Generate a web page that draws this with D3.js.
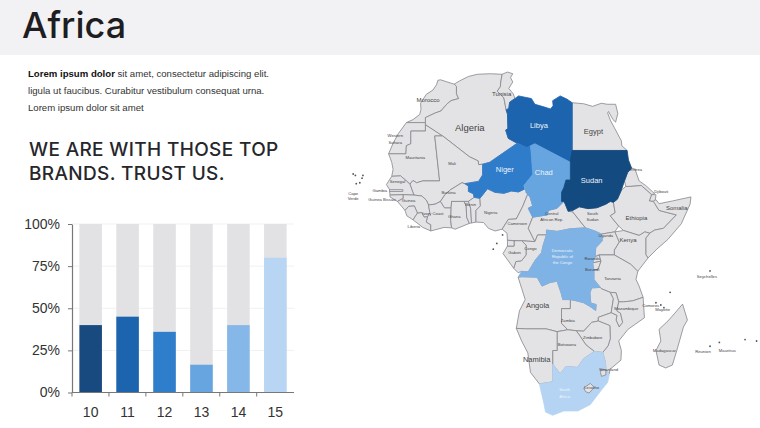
<!DOCTYPE html>
<html>
<head>
<meta charset="utf-8">
<script src="https://cdnjs.cloudflare.com/ajax/libs/d3/7.8.5/d3.min.js"></script>
<style>
body{margin:0;background:#fff;}
svg{display:block;}
text{font-family:"Liberation Sans",Arial,sans-serif;}
</style>
</head>
<body>
<svg width="760" height="428"></svg>
<script>
var svg = d3.select('svg');

// bar chart values
var periods = ['10','11','12','13','14','15'];
var shares = [40,45,36,16.5,40,80];
var pctTicks = [0,25,50,75,100];
var barColors = ['#184a80','#1c64ae','#2f7ecb','#66a5e0','#85b8e8','#b8d5f3'];

// country outlines, lon/lat
var outlines = {
  'Morocco':[[-5.9,35.8],[-5.3,35.9],[-3,35.3],[-2.2,35.1],[-1.7,34.7],[-1.7,33.3],[-1.2,32.4],[-2.9,32],[-3.8,31.4],[-5.2,30],[-6.5,29.6],[-8.7,28.7],[-8.7,27.7],[-13,27.7],[-11.5,28.3],[-10,29.3],[-9.7,30.3],[-9.8,31.5],[-8.5,33.2],[-7,34],[-6.2,35]],
  'Western Sahara':[[-13,27.7],[-8.7,27.7],[-8.7,26],[-12,26],[-12,23.4],[-13,23],[-13.1,21.3],[-17,21.3],[-16,23.5],[-14.8,25.5]],
  'Mauritania':[[-17,21.3],[-13.1,21.3],[-13,23],[-12,23.4],[-12,26],[-8.7,26],[-8.7,27.3],[-4.8,25],[-6.6,25],[-5.5,15.5],[-9.3,15.5],[-10.7,15.1],[-11.5,15.6],[-12.2,14.8],[-13,15.5],[-14.3,16.6],[-16.3,16.5],[-16,18],[-16.3,19.5]],
  'Algeria':[[-2.2,35.1],[-1,35.7],[1,36.5],[3,36.9],[6,37],[8.6,36.9],[8.3,35.5],[8.2,34.6],[7.5,33.8],[9,32.5],[9.5,30.2],[9.8,29.4],[9.9,26.5],[9.4,26.2],[10,24.5],[12,23.5],[5.8,19.5],[4.2,19.1],[3.3,19],[3.2,19.8],[1.2,20.7],[-4.8,25],[-8.7,27.3],[-8.7,28.7],[-6.5,29.6],[-5.2,30],[-3.8,31.4],[-2.9,32],[-1.2,32.4],[-1.7,33.3],[-1.7,34.7]],
  'Tunisia':[[8.6,36.9],[9.8,37.3],[11,37],[10.5,36.3],[11,35.5],[10.1,34.3],[11.1,33.3],[11.5,32.4],[10.3,31.7],[10.1,30.5],[9.5,30.2],[9,32.5],[7.5,33.8],[8.2,34.6],[8.3,35.5]],
  'Egypt':[[24.4,31.6],[27,31.4],[29,30.9],[31,31.5],[32.3,31.3],[34.2,31.3],[34.7,29.5],[34.2,27.8],[33.6,28.3],[32.6,29.9],[32.4,29.6],[33,28.2],[33.9,26.7],[35.5,24],[35.6,23],[36.8,22],[24.4,22]],
  'Mali':[[-4.8,25],[1.2,20.7],[3.2,19.8],[3.3,19],[4.2,19.1],[4.2,16.8],[3.3,15.4],[0.2,14.9],[-0.5,15.1],[-2,14.2],[-3,13.6],[-4.3,12.5],[-5.3,11],[-6.5,10.4],[-8,10.2],[-8.5,11.3],[-9.5,12.2],[-11.3,12.4],[-12.2,14.8],[-11.5,15.6],[-10.7,15.1],[-9.3,15.5],[-5.5,15.5],[-6.6,25]],
  'Senegal':[[-17.5,14.7],[-16.3,16.5],[-14.3,16.6],[-13,15.5],[-12.2,14.8],[-11.3,12.4],[-13.7,12.5],[-16.7,12.4],[-16.8,13.6]],
  'Gambia':[[-16.8,13.6],[-13.8,13.6],[-13.8,13.2],[-16.8,13.2]],
  'Guinea Bissau':[[-16.7,12.4],[-13.7,12.5],[-13.7,11.7],[-15,11],[-16.7,12]],
  'Guinea':[[-13.7,12.5],[-11.3,12.4],[-9.5,12.2],[-8.5,11.3],[-8,10.2],[-7.7,8.5],[-8.2,7.6],[-9,7.5],[-9.5,8.5],[-10.5,8.4],[-11.2,10],[-12.5,9.9],[-13.3,9],[-15,11],[-13.7,11.7]],
  'Sierra Leone':[[-13.3,9],[-12.5,9.9],[-11.2,10],[-10.5,8.4],[-11.5,6.9],[-12.9,7.8]],
  'Liberia':[[-11.5,6.9],[-10.5,8.4],[-9.5,8.5],[-9,7.5],[-8.2,7.6],[-8.5,6.4],[-7.5,5.8],[-7.5,4.4],[-9.3,5.2]],
  'Ivory Coast':[[-8,10.2],[-6.5,10.4],[-5.3,11],[-4.4,9.6],[-2.9,9.6],[-3,6.8],[-2.8,5.1],[-4.5,5.2],[-7.5,4.4],[-7.5,5.8],[-8.5,6.4],[-8.2,7.6],[-7.7,8.5]],
  'Burkina Faso':[[-5.3,11],[-4.3,12.5],[-3,13.6],[-2,14.2],[-0.5,15.1],[0.2,14.9],[1,14.4],[1,13.2],[2.1,12.7],[2.3,11.9],[1,11],[-2.8,11],[-2.9,9.6],[-4.4,9.6]],
  'Ghana':[[-2.8,11],[0,11],[0.5,10],[0.6,7.5],[1.2,6.1],[-2,4.8],[-2.8,5.1],[-3,6.8],[-2.9,9.6]],
  'Togo':[[0,11],[1,11],[1.5,9.5],[1.7,6.2],[1.2,6.1],[0.6,7.5],[0.5,10]],
  'Benin':[[1,11],[2.3,11.9],[3.6,11.7],[3.7,10],[2.7,9],[2.7,6.4],[1.7,6.2],[1.5,9.5]],
  'Nigeria':[[2.7,6.4],[2.7,9],[3.7,10],[3.6,11.7],[5.3,13.8],[7,13],[9,12.8],[10.7,13.3],[12.3,13.1],[13.6,13.7],[14.5,12.9],[13.2,9.8],[11.8,7.1],[10,7],[8.6,4.8],[7,4.4],[5.5,5],[4.4,6.3]],
  'Cameroon':[[8.6,4.8],[10,7],[11.8,7.1],[13.2,9.8],[14.5,12.9],[14,13],[14.9,12],[15.5,10],[14.5,9.5],[15.5,7.5],[14.5,5],[16,2],[13,2.2],[9.8,2.3],[9.7,3.9]],
  'Central African Republic':[[15.5,7.5],[18.8,8],[19,9],[21,9.5],[22.5,11],[22.8,10.5],[23.5,8.8],[24.5,8.7],[27.4,5.1],[24,4.9],[21,4.3],[18.6,4.6],[18.6,3.5],[16.6,3.5],[16,2],[14.5,5]],
  'South Sudan':[[24.5,9],[26,9.8],[28,9.4],[30,9.6],[32,10.4],[33,11],[33.7,10.8],[34.1,8.5],[33,7.8],[34.9,5.5],[34,4.2],[31,3.7],[29.5,4.4],[27.4,5.1],[24.5,8.7]],
  'Eritrea':[[37.8,18.3],[38.6,18],[39.5,15.5],[41,14.5],[43,12.7],[42.3,12.5],[40,14.5],[37.5,14.3],[36.5,14.3],[36.2,15.5],[36.9,17.3]],
  'Djibouti':[[42.3,12.5],[43.3,12.5],[43.2,11.5],[42.7,11],[41.8,11.1]],
  'Ethiopia':[[35.5,13.5],[36.5,14.3],[37.5,14.3],[40,14.5],[42.3,12.5],[41.8,11.1],[42.7,11],[43,10.6],[44,9],[47.9,8],[45,5],[43,4.6],[41.9,3.9],[40.8,4.2],[39.5,3.4],[36,4.5],[34.9,5.5],[33,7.8],[34.1,8.5],[33.7,10.8],[34.6,11.5]],
  'Somalia':[[42.7,11],[43.3,11.4],[44,10.5],[47,11.1],[51.2,12],[51,10.4],[49,6],[46,2.5],[43.5,0.3],[41.5,-1.7],[41,-0.9],[41,2.8],[41.9,3.9],[43,4.6],[45,5],[47.9,8],[44,9],[43,10.6]],
  'Kenya':[[34,4.2],[36,4.5],[39.5,3.4],[40.8,4.2],[41.9,3.9],[41,2.8],[41,-0.9],[41.5,-1.7],[39.2,-4.7],[37.6,-3.1],[33.9,-1],[33.9,0.1],[35,1.9]],
  'Uganda':[[31,3.7],[34,4.2],[35,1.9],[33.9,0.1],[33.9,-1],[30.5,-1],[29.6,-1.4],[29.7,0.6],[31.2,2.2]],
  'Rwanda':[[30.5,-1],[30.9,-2.4],[29,-2.8],[29.6,-1.4]],
  'Burundi':[[29,-2.8],[30.9,-2.4],[30.3,-4.2],[29.3,-4.4]],
  'Tanzania':[[33.9,-1],[37.6,-3.1],[39.2,-4.7],[38.8,-6.5],[39.5,-8],[40.4,-10.5],[38,-11.3],[36,-11.5],[34.9,-11.5],[34.3,-9.5],[33,-9.4],[31,-8.6],[29.3,-6.5],[29.3,-4.4],[30.3,-4.2],[30.9,-2.4],[30.5,-1]],
  'Congo':[[11.2,-4],[12.2,-5],[13,-4.7],[14.5,-4.8],[16.2,-2],[17.5,-0.5],[17.8,1],[18.6,3.5],[16.6,3.5],[16,2],[13,2.2],[14,1.2],[14,-1],[13,-2.3],[11.7,-2.5]],
  'Gabon':[[9.8,1],[8.8,-0.7],[11.2,-4],[11.7,-2.5],[13,-2.3],[14,-1],[14,1.2],[13,2.2],[11.3,2.2],[11.3,1]],
  'Equatorial Guinea':[[9.8,2.3],[11.3,2.2],[11.3,1],[9.8,1]],
  'Angola':[[12.2,-6],[13,-5.9],[16.5,-6],[17.6,-8],[19.4,-7.2],[21,-6.9],[21.9,-9.5],[22.3,-11],[24,-11],[24,-13],[22,-13],[22,-16.2],[23.4,-17.6],[21,-18],[18.5,-17.4],[13.9,-17.4],[11.8,-17.3],[12.5,-13.5],[13.8,-11],[13,-8.5]],
  'Zambia':[[22,-13],[24,-13],[24,-11],[25.5,-11.3],[27,-11.7],[28.4,-12.5],[29.7,-13.4],[29.8,-12.1],[28.6,-11.8],[28.4,-9.5],[28.8,-8.4],[30.7,-8.3],[31,-8.6],[33,-9.4],[33.7,-10.8],[33.2,-13.9],[30.3,-14.9],[30.3,-15.7],[28.8,-16],[27,-17.9],[25.3,-17.8],[23.4,-17.6],[22,-16.2]],
  'Malawi':[[33,-9.4],[34.3,-9.5],[34.9,-11.5],[34.5,-13.5],[35.3,-14],[35.8,-16],[35,-17],[34.3,-15.5],[34.5,-14.5],[33.2,-13.9],[33.7,-10.8]],
  'Mozambique':[[34.9,-11.5],[36,-11.5],[38,-11.3],[40.4,-10.5],[40.7,-15],[37,-17.5],[34.9,-20],[35.5,-22],[35.4,-24],[32.9,-25.9],[32.8,-26.8],[32,-26],[31.9,-24.5],[31.3,-22.4],[32.5,-21],[33,-19.5],[32.9,-16.7],[30.3,-15.7],[30.3,-14.9],[33.2,-13.9],[34.5,-14.5],[34.3,-15.5],[35,-17],[35.8,-16],[35.3,-14],[34.5,-13.5]],
  'Zimbabwe':[[25.3,-17.8],[27,-17.9],[28.8,-16],[30.3,-15.7],[32.9,-16.7],[33,-19.5],[32.5,-21],[31.3,-22.4],[29.4,-22.2],[27.5,-20.8],[26,-18.7]],
  'Botswana':[[21,-18],[23.4,-17.6],[25.3,-17.8],[26,-18.7],[27.5,-20.8],[29.4,-22.2],[27,-23.7],[25.6,-25.5],[23,-25.3],[21.7,-26.8],[20,-24.8],[20,-22],[21,-22]],
  'Namibia':[[11.8,-17.3],[13.9,-17.4],[18.5,-17.4],[21,-18],[21,-22],[20,-22],[20,-28.4],[17,-28.8],[15,-26.5],[14.4,-22.5],[13,-20]],
  'Lesotho':[[27,-29.6],[28.5,-28.7],[29.4,-29.5],[28.2,-30.6],[27.4,-30.3]],
  'Swaziland':[[31,-25.8],[32,-26],[32,-27],[31,-27.3],[30.8,-26.5]],
  'Madagascar':[[49.3,-12],[50.4,-15.5],[49.5,-17],[48,-22],[47,-25],[45.5,-25.6],[44,-25],[43.3,-22],[44.4,-20],[44,-17.5],[46,-15.7],[48,-13.5]],
  // coloured ones, drawn last
  'Libya':[[11.5,32.4],[12.3,32.9],[15.2,32.4],[16,31.3],[18,30.8],[19.5,30.4],[20.1,31],[20,32],[21.7,32.9],[23.2,32.3],[24.4,31.6],[24.4,20],[24,19.5],[16,23.4],[15,23],[14.2,22.6],[12,23.5],[10,24.5],[9.4,26.2],[9.9,26.5],[9.8,29.4],[9.5,30.2],[10.1,30.5],[10.3,31.7]],
  'Niger':[[12,23.5],[14.2,22.6],[15,23],[15.2,21],[15.5,16.9],[13.5,14.5],[13.6,13.7],[12.3,13.1],[10.7,13.3],[9,12.8],[7,13],[5.3,13.8],[3.6,11.7],[2.3,11.9],[2.1,12.7],[1,13.2],[1,14.4],[0.2,14.9],[3.3,15.4],[4.2,16.8],[4.2,19.1],[5.8,19.5]],
  'Chad':[[15,23],[16,23.4],[24,19.5],[24,15.7],[23,15.7],[22.5,14],[22,13],[22,11],[22.5,11],[21,9.5],[19,9],[18.8,8],[15.5,7.5],[14.5,9.5],[15.5,10],[14.9,12],[14,13],[13.5,14.5],[15.5,16.9],[15.2,21]],
  'Sudan':[[24,19.5],[24,20],[24.4,22],[36.8,22],[37.1,20],[37.8,18.3],[36.9,17.3],[36.2,15.5],[35.5,13.5],[34.6,11.5],[33.7,10.8],[33,11],[32,10.4],[30,9.6],[28,9.4],[26,9.8],[24.5,9],[23.5,8.8],[22.8,10.5],[22.5,11],[22,11],[22,13],[22.5,14],[23,15.7],[24,15.7]],
  'Democratic Republic of the Congo':[[12.2,-6],[13,-4.7],[14.5,-4.8],[16.2,-2],[17.5,-0.5],[17.8,1],[18.6,3.5],[18.6,4.6],[21,4.3],[24,4.9],[27.4,5.1],[29.5,4.4],[31,3.7],[31.2,2.2],[29.7,0.6],[29.6,-1.4],[29,-2.8],[29.3,-4.4],[29.3,-6.5],[30.7,-8.3],[28.8,-8.4],[28.4,-9.5],[28.6,-11.8],[29.8,-12.1],[29.7,-13.4],[28.4,-12.5],[27,-11.7],[25.5,-11.3],[24,-11],[22.3,-11],[21.9,-9.5],[21,-6.9],[19.4,-7.2],[17.6,-8],[16.5,-6],[13,-5.9]],
  'South Africa':[[17,-28.8],[20,-28.4],[20,-24.8],[21.7,-26.8],[23,-25.3],[25.6,-25.5],[27,-23.7],[29.4,-22.2],[31.3,-22.4],[31.9,-24.5],[32,-26],[32.8,-26.8],[32.4,-28.5],[31,-30],[28.5,-32.8],[25.7,-34],[22.5,-34],[20,-34.8],[18.4,-34.2],[18,-32.5]]
};
var topOutlines = ['Lesotho','Swaziland','Gambia'];

var shade = {
  'Libya':'#1c64ae','Niger':'#2f7ccb','Chad':'#66a5e0','Sudan':'#134a80',
  'Democratic Republic of the Congo':'#7fb2e5','South Africa':'#b5d4f3'
};

// small islands, lon/lat
var islands = [[-24.5,16.7],[-23.5,15.1],[-24.3,14.9],[-23,16.1],[-25,17],[-22.8,16.7],
  [6.6,0.3],[7.4,1.6],[8.7,3.5],[43.3,-11.7],[44.4,-12.2],[45.1,-12.8],[55.5,-4.6],[46.5,-9.4],
  [55.5,-21.1],[57.6,-20.3],[63.4,-19.7],[66,-20]];

// name labels, lon/lat
var names = ['Algeria','Morocco','Tunisia','Libya','Niger','Chad','Sudan','Egypt','Mauritania','Western','Sahara','Mali','Cape','Verde','Senegal','Gambia','Guinea Bissau','Guinea','Liberia','Ivory Coast','Burkina','Ghana','Benin','Nigeria','Cameroon','Central','African Rep.','South','Sudan ','Ethiopia','Somalia','Djibouti','Eritrea','Kenya','Uganda','Democratic','Republic of','the Congo','Tanzania','Rwanda','Burundi','Angola','Zambia','Mozambique','Zimbabwe','Botswana','Namibia','South ','Africa','Lesotho','Swaziland','Madagascar','Seychelles','Comoros','Mayotte','Mauritius','Reunion','Congo','Gabon'];
var nameLon = [1.3,-8.1,8.5,16.9,9.2,18,28.8,29.2,-11,-15.5,-15.5,-2.7,-25,-25,-15,-19,-18.5,-12.5,-11.3,-7,-3.5,-2.2,1.5,6,12,19.8,19.8,29,29,38.9,48,44.5,38.8,37,32,22.2,22.2,22.2,33.5,28.9,28.9,16.6,23.4,36.6,29,23.2,16.4,22.7,22.7,28.8,32.6,45.2,54.8,42.1,44.8,59.4,53.9,15,11.4];
var nameLat = [26.7,32.2,33.2,27.2,18,17.3,15.6,25.9,20.5,25,23.7,19.2,12.8,11.6,15.3,13.4,11.5,11.3,5.5,8.3,13,7.7,10.3,8.5,6,8.2,7,8.2,7,7.4,9.6,13.2,18,2.5,3.4,0,-1.3,-2.6,-6.3,-1.9,-4.3,-12.2,-15.5,-13,-19.2,-20.8,-23.8,-30,-31.2,-29.6,-26,-22,-5.8,-12.3,-13.3,-21.9,-22.2,0.5,-0.5];
var bigNames = ['Algeria'];
var midNames = ['Libya','Niger','Chad','Sudan','Egypt','Angola','Namibia'];
var lowNames = ['Morocco','Tunisia','Kenya','Ethiopia','Somalia'];
var whiteNames = ['Libya','Niger','Chad','Sudan','Democratic','Republic of','the Congo','South ','Africa'];

// header
svg.append('rect').attr('width',760).attr('height',55).attr('fill','#f2f2f4');
svg.append('text').attr('x',22).attr('y',38).attr('fill','#1e1e22')
  .style('font-family','Inter').style('font-size','36px').style('font-weight',500).text('Africa');

// intro
var intro = svg.append('text').attr('fill','#333').style('font-size','9.6px');
intro.append('tspan').attr('x',28).attr('y',77).style('font-weight','bold').attr('fill','#111').text('Lorem ipsum dolor');
intro.append('tspan').text(' sit amet, consectetur  adipiscing elit.');
intro.append('tspan').attr('x',28).attr('y',94).text('ligula ut faucibus.  Curabitur vestibulum  consequat  urna.');
intro.append('tspan').attr('x',28).attr('y',111).text('Lorem ipsum dolor sit amet');

svg.selectAll('.head').data(['WE ARE WITH THOSE TOP','BRANDS. TRUST US.']).enter().append('text')
  .attr('x',29).attr('y',function(d,i){ return 156+i*23.5; })
  .attr('fill','#26262b').style('font-family','Inter').style('font-size','19px').style('font-weight',500)
  .style('letter-spacing','0.35px').text(function(d){ return d; });

// chart
var x = d3.scaleBand().domain(periods).range([72,294]).paddingInner(0.39).paddingOuter(0.2);
var y = d3.scaleLinear().domain([0,100]).range([392.5,224]);

svg.selectAll('.grid').data(pctTicks.slice(1)).enter().append('line')
  .attr('x1',72).attr('x2',294).attr('y1',y).attr('y2',y).attr('stroke','#f1f1f3');

svg.selectAll('.bg').data(periods).enter().append('rect')
  .attr('x',function(d){ return x(d); }).attr('width',x.bandwidth())
  .attr('y',y(100)).attr('height',y(0)-y(100)).attr('fill','#e2e2e5');

svg.selectAll('.bar').data(shares).enter().append('rect')
  .attr('x',function(d,i){ return x(periods[i]); }).attr('width',x.bandwidth())
  .attr('y',function(d){ return y(d); }).attr('height',function(d){ return y(0)-y(d); })
  .attr('fill',function(d,i){ return barColors[i]; });

var yAxis = svg.append('g').attr('transform','translate(72,0)')
  .call(d3.axisLeft(y).tickValues(pctTicks).tickFormat(function(d){ return d+'%'; }).tickSize(4).tickPadding(8).tickSizeOuter(0));
var xAxis = svg.append('g').attr('transform','translate(0,392.5)')
  .call(d3.axisBottom(x).tickSize(0).tickSizeOuter(0));
xAxis.selectAll('.domain').attr('d','M72,0H294');
xAxis.selectAll('.sep').data(periods).enter().append('line').attr('class','sep')
  .attr('x1',function(d){ return x(d)-x.step()*x.paddingOuter(); })
  .attr('x2',function(d){ return x(d)-x.step()*x.paddingOuter(); })
  .attr('y1',0).attr('y2',4).attr('stroke','#777');
[yAxis,xAxis].forEach(function(a){
  a.selectAll('.domain').attr('stroke','#777').attr('stroke-width',1.2);
  a.selectAll('text').style('font-size','14px').style('font-family','Liberation Sans').attr('fill','#333');
});
yAxis.selectAll('line').attr('stroke','#777');
xAxis.selectAll('.tick text').attr('y',15);

// map
var projection = d3.geoMercator().scale(254).translate([464,250.5]);
var line = d3.line().curve(d3.curveLinearClosed);
var countryNames = Object.keys(outlines);
countryNames.sort(function(a,b){
  return (topOutlines.indexOf(a)>=0) - (topOutlines.indexOf(b)>=0);
});

svg.append('g').selectAll('path').data(countryNames).enter().append('path')
  .attr('d',function(d){ return line(outlines[d].map(projection)); })
  .attr('fill',function(d){ return shade[d] || '#e3e3e6'; })
  .attr('stroke',function(d){ return shade[d] || '#85858b'; })
  .attr('stroke-width',0.8).attr('stroke-linejoin','round');

svg.append('g').selectAll('circle').data(islands).enter().append('circle')
  .attr('cx',function(d){ return projection(d)[0]; })
  .attr('cy',function(d){ return projection(d)[1]; })
  .attr('r',0.9).attr('fill','#55555c');

svg.append('g').selectAll('text').data(names).enter().append('text')
  .attr('x',function(d,i){ return projection([nameLon[i],nameLat[i]])[0]; })
  .attr('y',function(d,i){ return projection([nameLon[i],nameLat[i]])[1]; })
  .attr('dy','0.35em').attr('text-anchor','middle')
  .attr('fill',function(d){ return whiteNames.indexOf(d)>=0 ? '#eef4fb' : '#444'; })
  .style('font-size',function(d){
    if(bigNames.indexOf(d)>=0) return '9.5px';
    if(midNames.indexOf(d)>=0) return '7.5px';
    if(lowNames.indexOf(d)>=0) return '6px';
    return '4.2px';
  })
  .text(function(d){ return d; });
</script>
</body>
</html>
